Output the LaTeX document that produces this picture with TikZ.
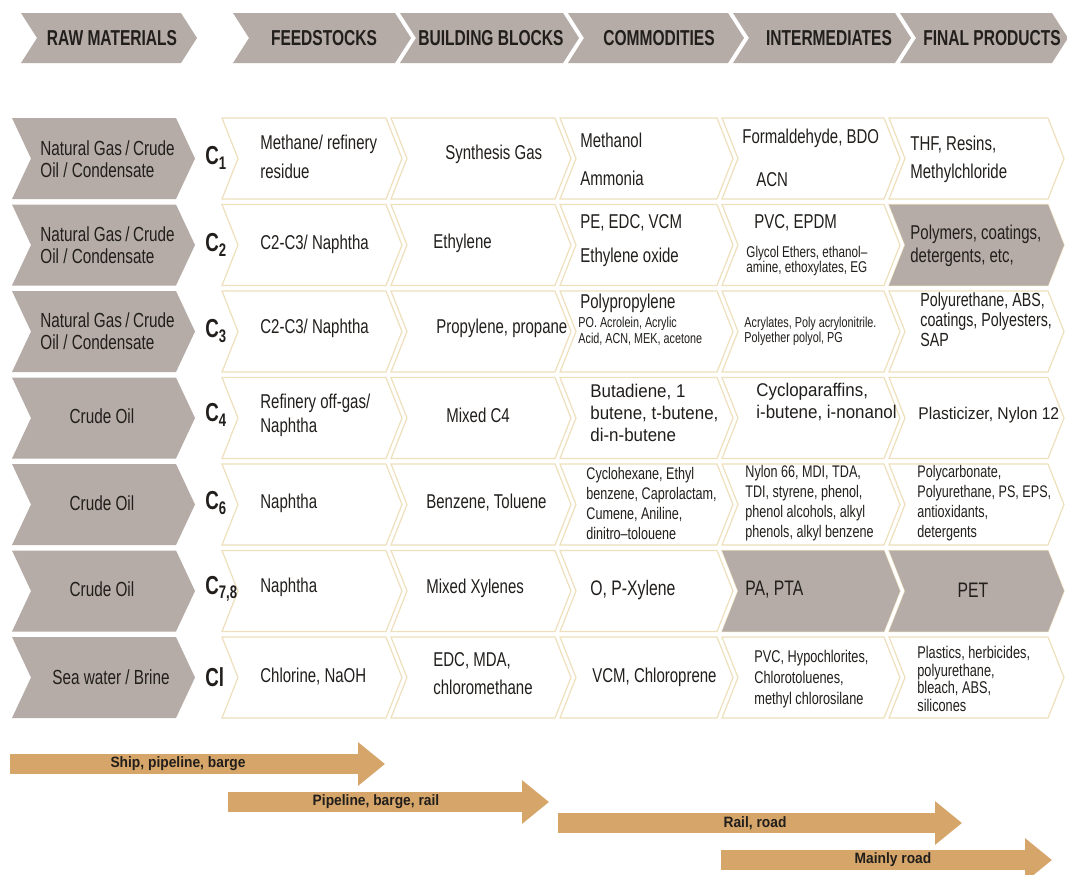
\documentclass[tikz,border=0pt]{standalone}
\usepackage{fontspec}
\setmainfont{Liberation Sans}[FakeStretch=0.75]
\newfontfamily\headfont{Liberation Sans}[FakeStretch=0.72]
\newfontfamily\widefont{Liberation Sans}[FakeStretch=0.92]
\usetikzlibrary{arrows.meta}

\definecolor{chevgray}{RGB}{181,172,167}
\definecolor{routetan}{RGB}{213,165,106}
\definecolor{cellline}{RGB}{238,224,188}
\definecolor{ink}{RGB}{33,30,28}

% chevron: style, left x, right x, top y, height, point depth
\newcommand{\chev}[6]{%
  \path[#1] (#2,#4) -- (#3,#4) -- ({#3+#6},{#4+#5/2}) -- (#3,{#4+#5})
    -- (#2,{#4+#5}) -- ({#2+#6},{#4+#5/2}) -- cycle;}

\tikzset{
  head/.style={fill=chevgray},
  rawbox/.style={fill=chevgray},
  cell/.style={fill=white, draw=cellline, line width=0.6pt},
  headtxt/.style={inner sep=0pt, text=ink, font=\headfont\bfseries\fontsize{10.8}{12}\selectfont},
  rawtxt/.style={inner sep=0pt, text=ink, align=left, font=\fontsize{10.2}{11}\selectfont},
  ctxt/.style={anchor=west, inner sep=0pt, text=ink, font=\headfont\bfseries\fontsize{13}{13}\selectfont},
  txt/.style={anchor=west, inner sep=0pt, align=left, text=ink, font=\fontsize{10}{12}\selectfont},
  smalltxt/.style={txt, font=\fontsize{7.2}{6.6}\selectfont},
  listtxt/.style={txt, font=\fontsize{8.4}{10}\selectfont},
  widetxt/.style={txt, font=\widefont\fontsize{9.2}{11.2}\selectfont},
  route/.style={draw=routetan, line width=10pt, -{Triangle[width=21pt,length=13.5pt]}},
  routetxt/.style={inner sep=0pt, text=ink, font=\widefont\bfseries\fontsize{7.5}{8}\selectfont},
}

\begin{document}
\begin{tikzpicture}[x=0.5pt, y=-0.5pt]
  \useasboundingbox (0,0) rectangle (1067,874);
  \clip (0,0) rectangle (1067,874);
  \fill[white] (0,0) rectangle (1067,874);

  % column headers
  \chev{head}{21}{181}{13}{50}{16}
  \chev{head}{233}{395}{13}{50}{16}
  \chev{head}{400}{563}{13}{50}{16}
  \chev{head}{568}{728}{13}{50}{16}
  \chev{head}{733}{895}{13}{50}{16}
  \chev{head}{900}{1052}{13}{50}{16}
  \node[headtxt] (hraw) at (112,38) {RAW MATERIALS};
  \node[headtxt] (hfeed) at (324,38) {FEEDSTOCKS};
  \node[headtxt] (hbuild) at (491,38) {BUILDING BLOCKS};
  \node[headtxt] (hcomm) at (659,38) {COMMODITIES};
  \node[headtxt] (hinter) at (829,38) {INTERMEDIATES};
  \node[headtxt] (hfinal) at (992,38) {FINAL PRODUCTS};

  % rows of chevrons
  \foreach \t in {118,204.5,291,377.5,464,550.5,637} {
    \chev{rawbox}{12}{176}{\t}{81}{19}
    \foreach \a/\b in {222/386,391/555,560/717,722/884,889/1048}
      {\chev{cell}{\a}{\b}{\t}{81}{16}}
  }
  \chev{rawbox}{889}{1048}{204.5}{81}{16}
  \chev{rawbox}{722}{884}{550.5}{81}{16}
  \chev{rawbox}{889}{1048}{550.5}{81}{16}

  % raw materials
  \node[rawtxt, anchor=west] (raw1) at (40,159) {Natural Gas\,/\,Crude\\Oil / Condensate};
  \node[rawtxt, anchor=west] (raw2) at (40,245) {Natural Gas\,/\,Crude\\Oil / Condensate};
  \node[rawtxt, anchor=west] (raw3) at (40,331) {Natural Gas\,/\,Crude\\Oil / Condensate};
  \node[rawtxt] (raw4) at (102,416) {Crude Oil};
  \node[rawtxt] (raw5) at (102,503) {Crude Oil};
  \node[rawtxt] (raw6) at (102,589) {Crude Oil};
  \node[rawtxt] (raw7) at (111,677) {Sea water / Brine};

  % carbon numbers
  \node[ctxt] (c1) at (205,158) {C\textsubscript{1}};
  \node[ctxt] (c2) at (205,245) {C\textsubscript{2}};
  \node[ctxt] (c3) at (205,331) {C\textsubscript{3}};
  \node[ctxt] (c4) at (205,415) {C\textsubscript{4}};
  \node[ctxt] (c6) at (205,503) {C\textsubscript{6}};
  \node[ctxt] (c78) at (205,589) {C\textsubscript{7,8}};
  \node[ctxt] (cl) at (205,677) {Cl};

  % feedstocks
  \node[txt, font=\fontsize{10}{14.5}\selectfont] (feed1) at (260,157) {Methane/ refinery\\residue};
  \node[txt] (feed2) at (260,244) {C2-C3/ Naphtha};
  \node[txt] (feed3) at (260,328) {C2-C3/ Naphtha};
  \node[txt] (feed4) at (260,415) {Refinery off-gas/\\Naphtha};
  \node[txt] (feed5) at (260,503) {Naphtha};
  \node[txt] (feed6) at (260,587) {Naphtha};
  \node[txt] (feed7) at (260,677) {Chlorine, NaOH};

  % building blocks
  \node[txt] (build1) at (445,154) {Synthesis Gas};
  \node[txt] (build2) at (433,243) {Ethylene};
  \node[txt] (build3) at (436,328) {Propylene, propane};
  \node[txt] (build4) at (446,415) {Mixed C4};
  \node[txt] (build5) at (426,503) {Benzene, Toluene};
  \node[txt] (build6) at (426,588) {Mixed Xylenes};
  \node[txt, font=\fontsize{10}{14}\selectfont] (build7) at (433,674) {EDC, MDA,\\chloromethane};

  % commodities
  \node[txt] (comm1a) at (580,140) {Methanol};
  \node[txt] (comm1b) at (580,178) {Ammonia};
  \node[txt] (comm2a) at (580,223) {PE, EDC, VCM};
  \node[txt] (comm2b) at (580,257) {Ethylene oxide};
  \node[txt] (comm3a) at (580,303) {Polypropylene};
  \node[smalltxt] (comm3b) at (578,331) {PO. Acrolein, Acrylic\\Acid, ACN, MEK, acetone};
  \node[widetxt] (comm4) at (590,413) {Butadiene, 1\\butene, t-butene,\\di-n-butene};
  \node[listtxt] (comm5) at (586,503) {Cyclohexane, Ethyl\\benzene, Caprolactam,\\Cumene, Aniline,\\dinitro–tolouene};
  \node[txt, font=\fontsize{10.5}{12}\selectfont] (comm6) at (590,590) {O, P-Xylene};
  \node[txt] (comm7) at (592,677) {VCM, Chloroprene};

  % intermediates
  \node[txt] (inter1a) at (742,138) {Formaldehyde, BDO};
  \node[txt] (inter1b) at (756,180) {ACN};
  \node[txt] (inter2a) at (754,223) {PVC, EPDM};
  \node[txt, font=\fontsize{7.8}{7.6}\selectfont] (inter2b) at (746,261) {Glycol Ethers, ethanol–\\amine, ethoxylates, EG};
  \node[smalltxt] (inter3) at (744,331) {Acrylates, Poly acrylonitrile.\\Polyether polyol, PG};
  \node[widetxt, font=\widefont\fontsize{9.2}{10.8}\selectfont] (inter4) at (756,402) {Cycloparaffins,\\i-butene, i-nonanol};
  \node[listtxt] (inter5) at (745,503) {Nylon 66, MDI, TDA,\\TDI, styrene, phenol,\\phenol alcohols, alkyl\\phenols, alkyl benzene};
  \node[txt, font=\fontsize{10.5}{12}\selectfont] (inter6) at (745,590) {PA, PTA};
  \node[txt, font=\fontsize{8.5}{10.5}\selectfont] (inter7) at (754,679) {PVC, Hypochlorites,\\Chlorotoluenes,\\methyl chlorosilane};

  % final products
  \node[txt, font=\fontsize{10}{14}\selectfont] (final1) at (910,159) {THF, Resins,\\Methylchloride};
  \node[txt, font=\fontsize{10}{11.2}\selectfont] (final2) at (910,246) {Polymers, coatings,\\detergents, etc,};
  \node[txt, font=\fontsize{9.5}{10}\selectfont] (final3) at (920,320) {Polyurethane, ABS,\\coatings, Polyesters,\\SAP};
  \node[widetxt, font=\widefont\fontsize{8.5}{10}\selectfont] (final4) at (918,415) {Plasticizer, Nylon 12};
  \node[listtxt] (final5) at (917,503) {Polycarbonate,\\Polyurethane, PS, EPS,\\antioxidants,\\detergents};
  \node[txt, anchor=center, font=\fontsize{10.5}{12}\selectfont] (final6) at (973,590) {PET};
  \node[txt, font=\fontsize{8.5}{8.9}\selectfont] (final7) at (917,679) {Plastics, herbicides,\\polyurethane,\\bleach, ABS,\\silicones};

  % transport modes
  \coordinate (s1) at (10,764);  \coordinate (e1) at (385,764);
  \coordinate (s2) at (228,802); \coordinate (e2) at (549,802);
  \coordinate (s3) at (558,823); \coordinate (e3) at (962,823);
  \coordinate (s4) at (721,860); \coordinate (e4) at (1052,860);
  \draw[route] (s1) -- (e1);
  \draw[route] (s2) -- (e2);
  \draw[route] (s3) -- (e3);
  \draw[route] (s4) -- (e4);
  \node[routetxt] (mode1) at (178,764) {Ship, pipeline, barge};
  \node[routetxt] (mode2) at (376,802) {Pipeline, barge, rail};
  \node[routetxt] (mode3) at (755,823) {Rail, road};
  \node[routetxt] (mode4) at (893,860) {Mainly road};
\end{tikzpicture}
\end{document}
